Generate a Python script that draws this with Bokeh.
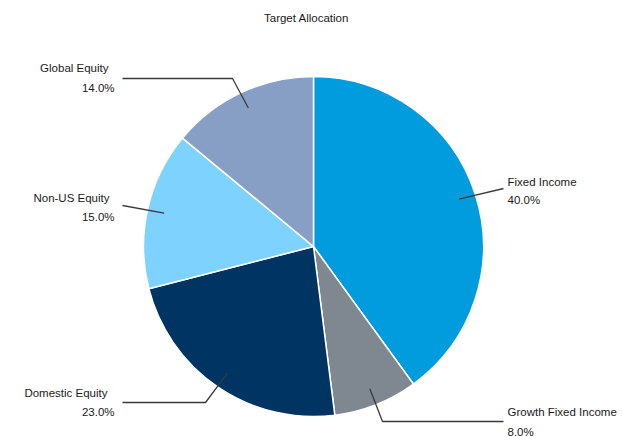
import numpy as np
from bokeh.plotting import figure
from bokeh.models import ColumnDataSource, Range1d
from bokeh.core.properties import value
from bokeh.embed import file_html
from bokeh.resources import INLINE

# ---- data (clockwise from 12 o'clock) ----
categories = ["Fixed Income", "Growth Fixed Income", "Domestic Equity", "Non-US Equity", "Global Equity"]
shares = [40.0, 8.0, 23.0, 15.0, 14.0]
pct_labels = ["40.0%", "8.0%", "23.0%", "15.0%", "14.0%"]
colors = ["#009CDE", "#7F8891", "#003462", "#7ED3FE", "#879FC5"]
title_text = "Target Allocation"

# ---- layout (pixels, y measured from top) ----
W, H = 623, 437
CX, CY = 313, 246
R = 170
ANCHOR_R = 153
FONT = "Liberation Sans"
FS = "11.5px"
TEXT_COLOR = "#1a1a1a"
LINE_COLOR = "#3a3a3a"
# per-label: elbow points (after anchor), name position, pct position, align
label_layout = {
    "Fixed Income": dict(elbow=[(503, 188)], name=(507, 181), pct=(507, 199), align="left"),
    "Growth Fixed Income": dict(elbow=[(382, 421), (503, 421)], name=(507, 411), pct=(507, 431), align="left"),
    "Domestic Equity": dict(elbow=[(205, 402), (122, 402)], name=(107, 392), pct=(114, 411), align="right"),
    "Non-US Equity": dict(elbow=[(122, 205)], name=(109, 197), pct=(114, 216), align="right"),
    "Global Equity": dict(elbow=[(232, 78), (122, 78)], name=(108, 67), pct=(114, 87), align="right"),
}

def fy(y):
    return H - y

# ---- angles ----
fr = np.array(shares) / sum(shares)
cum = np.concatenate([[0.0], np.cumsum(fr)]) * 2 * np.pi  # clockwise from top
theta1, theta2 = cum[:-1], cum[1:]
start = np.pi / 2 - theta2
end = np.pi / 2 - theta1
mid = (theta1 + theta2) / 2

src = ColumnDataSource(dict(start=start, end=end, color=colors, cat=categories))

p = figure(width=W, height=H, x_range=Range1d(0, W), y_range=Range1d(0, H),
           output_backend="svg", toolbar_location=None,
           x_axis_type=None, y_axis_type=None,
           min_border=0, min_border_left=0, min_border_right=0,
           min_border_top=0, min_border_bottom=0)
p.outline_line_color = None
p.grid.visible = False
p.background_fill_color = "white"
p.border_fill_color = "white"

p.wedge(x=CX, y=fy(CY), radius=R, start_angle="start", end_angle="end",
        direction="anticlock", fill_color="color", line_color="white",
        line_width=1.5, source=src)

# leader lines and labels
for i, cat in enumerate(categories):
    lay = label_layout[cat]
    ax = CX + ANCHOR_R * np.sin(mid[i])
    ay = CY - ANCHOR_R * np.cos(mid[i])
    pts = [(ax, ay)] + lay["elbow"]
    p.line([q[0] for q in pts], [fy(q[1]) for q in pts], line_color=LINE_COLOR, line_width=1.3)
    p.text(x=[lay["name"][0]], y=[fy(lay["name"][1])], text=[cat],
           text_font=value(FONT), text_font_size=FS, text_color=TEXT_COLOR,
           text_align=lay["align"], text_baseline="middle")
    p.text(x=[lay["pct"][0]], y=[fy(lay["pct"][1])], text=[pct_labels[i]],
           text_font=value(FONT), text_font_size=FS, text_color=TEXT_COLOR,
           text_align=lay["align"], text_baseline="middle")

p.text(x=[306], y=[fy(17)], text=[title_text], text_font=value(FONT),
       text_font_size=FS, text_color=TEXT_COLOR, text_align="center",
       text_baseline="middle")

open("out.html", "w").write(file_html(p, INLINE))
